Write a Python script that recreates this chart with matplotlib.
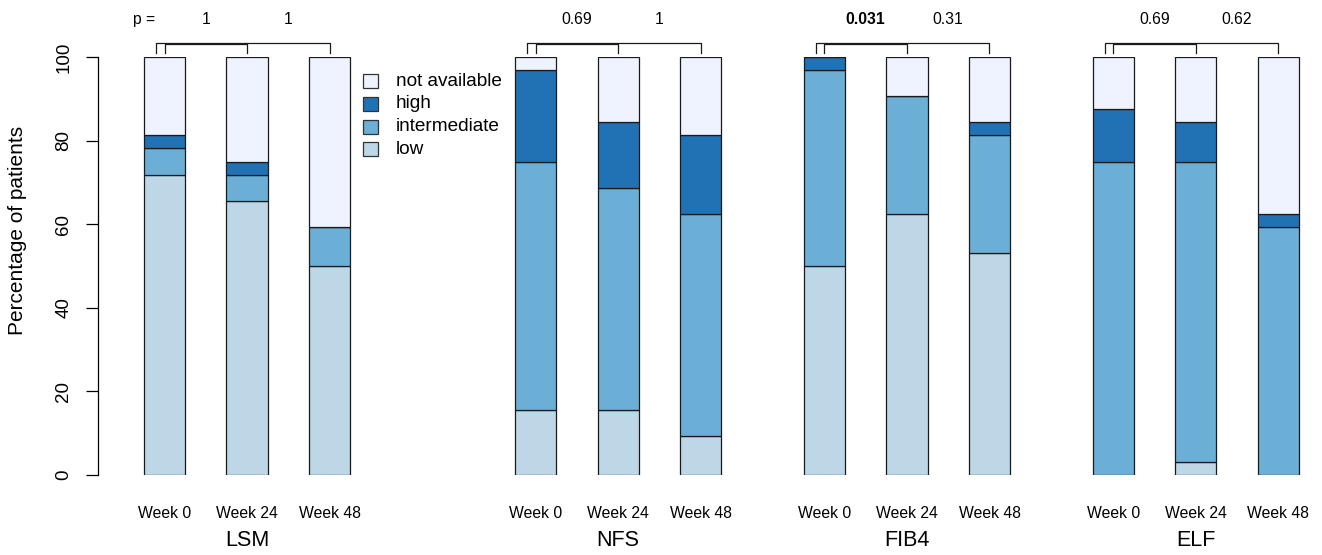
import matplotlib
matplotlib.use('Agg')
import matplotlib.pyplot as plt
from matplotlib.patches import Rectangle
import numpy as np

plt.rcParams['font.family'] = ['Liberation Sans', 'DejaVu Sans']

# data (percent of patients), one value per bar: week 0, 24, 48 for each score
scores = ['LSM', 'NFS', 'FIB4', 'ELF']
weeks = ['Week 0', 'Week 24', 'Week 48']
low = [71.875, 65.625, 50.0,   15.625, 15.625, 9.375,   50.0, 62.5, 53.125,   0.0, 3.125, 0.0]
intermediate = [6.25, 6.25, 9.375,   59.375, 53.125, 53.125,   46.875, 28.125, 28.125,   75.0, 71.875, 59.375]
high = [3.125, 3.125, 0.0,   21.875, 15.625, 18.75,   3.125, 0.0, 3.125,   12.5, 9.375, 3.125]
not_avail = [18.75, 25.0, 40.625,   3.125, 15.625, 18.75,   0.0, 9.375, 15.625,   12.5, 15.625, 37.5]
p_w24 = ['1', '0.69', '0.031', '0.69']
p_w48 = ['1', '1', '0.31', '0.62']
p_bold = [False, False, True, False]

categories = ['low', 'intermediate', 'high', 'not available']
colors = ['#bdd7e7', '#6baed6', '#2171b5', '#eff3ff']

W, H = 1322, 555
fig = plt.figure(figsize=(W / 100, H / 100), dpi=100)
ax = fig.add_axes([98.3 / W, 1 - 475 / H, (1310 - 98.3) / W, 418 / H])

group_start = [1.5, 10.5, 17.5, 24.5]
x = np.array([s + 2 * k for s in group_start for k in range(3)])

bottom = np.zeros(len(x))
for vals, col in zip([low, intermediate, high, not_avail], colors):
    ax.bar(x, vals, width=1.0, bottom=bottom, color=col, edgecolor='#1a1a1a', linewidth=0.9)
    bottom += np.array(vals)

ax.set_xlim(-0.105, 29.27)
ax.set_ylim(0, 100)
for s in ['top', 'right', 'bottom']:
    ax.spines[s].set_visible(False)
ax.spines['left'].set_bounds(0, 100)
ax.spines['left'].set_linewidth(0.9)
ax.set_yticks([0, 20, 40, 60, 80, 100])
ax.tick_params(axis='y', length=8.6, width=0.9, pad=10, labelsize=13.5, labelrotation=90)
for t in ax.get_yticklabels():
    t.set_va('center')
ax.set_xticks(x)
ax.set_xticklabels(weeks * 4)
ax.tick_params(axis='x', length=0, pad=22, labelsize=11.3)

# brackets, p-values and score names
for g, s in enumerate(group_start):
    b1, b2, b3 = s, s + 2, s + 4
    ax.plot([b1 - 0.2, b1 - 0.2, b3, b3], [101, 103.4, 103.4, 101], color='#1a1a1a', lw=0.9, clip_on=False)
    ax.plot([b1, b1, b2, b2], [101, 103.0, 103.0, 101], color='#1a1a1a', lw=0.9, clip_on=False)
    ax.text((b1 + b2) / 2, 108.9, p_w24[g], ha='center', va='center', fontsize=11.3,
            fontweight='bold' if p_bold[g] else 'normal')
    ax.text((b2 + b3) / 2, 108.9, p_w48[g], ha='center', va='center', fontsize=11.3)
    ax.text(b2, -15.6, scores[g], ha='center', va='center', fontsize=15.5, clip_on=False)
ax.text(group_start[0] - 0.5, 108.9, 'p =', ha='center', va='center', fontsize=11.3)

fig.text(18 / W, 1 - 230 / H, 'Percentage of patients', rotation=90, ha='center', va='center', fontsize=15)

# legend
rows = [81, 103.8, 126.6, 149.4]
for lab, col, yc in zip(categories[::-1], colors[::-1], rows):
    fig.add_artist(Rectangle((363 / W, 1 - (yc + 7) / H), 14.5 / W, 14 / H, transform=fig.transFigure,
                             facecolor=col, edgecolor='#333333', lw=0.9))
    fig.text(396 / W, 1 - yc / H, lab, ha='left', va='center', fontsize=13.7)

plt.savefig('out.png', dpi=100)
